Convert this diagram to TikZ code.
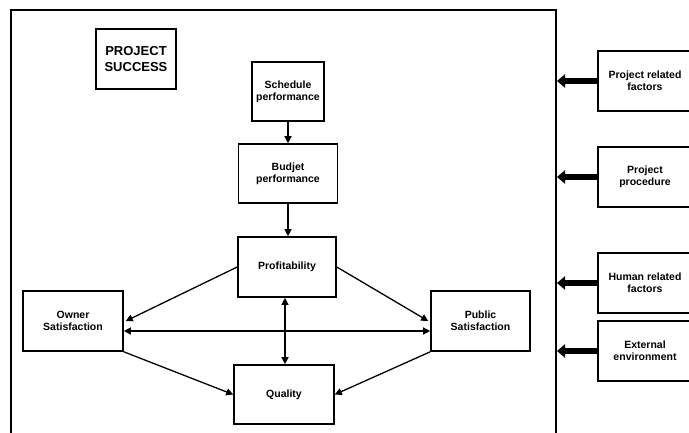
\documentclass[tikz,border=0pt]{standalone}
\usepackage{fontspec}
\setmainfont{Liberation Sans}
\usetikzlibrary{arrows.meta}
\begin{document}
\begin{tikzpicture}[x=1pt,y=-1pt,
  box/.style={draw=black,line width=1.6pt,fill=white,align=center,inner sep=1pt,
    font=\bfseries\fontsize{10.5}{11.7}\selectfont},
  conn/.style={line width=1.3pt,-{Triangle[length=7pt,width=7pt]}},
  dconn/.style={line width=1.3pt,{Triangle[length=7pt,width=7pt]}-{Triangle[length=7pt,width=7pt]}},
  fat/.style={line width=5.5pt,-{Triangle[length=8pt,width=13pt]}}]
\useasboundingbox (0,0) rectangle (689,432);
% frame
\draw[line width=1.6pt] (11,445) -- (11,10) -- (556,10) -- (556,445);
\coordinate (frameR) at (557,0);
% left diagram
\node[box,minimum width=80pt,minimum height=60pt,font=\bfseries\fontsize{13}{16.7}\selectfont] (ps) at (136,59) {PROJECT\\SUCCESS};
\node[box,minimum width=72pt,minimum height=59pt] (sched) at (288,91.5) {Schedule\\performance};
\node[box,minimum width=99pt,minimum height=59pt] (budj) at (288,173.5) {Budjet\\performance};
\node[box,minimum width=98pt,minimum height=60pt] (prof) at (287,267) {Profitability};
\node[box,minimum width=100pt,minimum height=60pt] (owner) at (73,321) {Owner\\Satisfaction};
\node[box,minimum width=99pt,minimum height=60pt] (public) at (480.5,321) {Public\\Satisfaction};
\node[box,minimum width=100pt,minimum height=59pt] (qual) at (284,394.5) {Quality};
% right factors
\node[box,minimum width=94pt,minimum height=60pt] (r1) at (645,81) {Project related\\factors};
\node[box,minimum width=94pt,minimum height=60pt] (r2) at (645,177) {Project\\procedure};
\node[box,minimum width=94pt,minimum height=60pt] (r3) at (645,283) {Human related\\factors};
\node[box,minimum width=94pt,minimum height=60pt] (r4) at (645,351) {External\\environment};
% connectors
\draw[conn] (sched.south) -- (budj.north);
\draw[conn] (budj.south) -- (budj.south |- prof.north);
\draw[conn] (prof.west) -- ([xshift=2pt]owner.east);
\draw[conn] (prof.east) -- ([xshift=-2pt]public.west);
\draw[dconn] ([yshift=-10pt]owner.east) -- ([yshift=-10pt]public.west);
\draw[dconn] ([xshift=-2pt]prof.south) -- ([xshift=1pt]qual.north);
\draw[conn] (owner.south east) -- (qual.west);
\draw[conn] (public.south west) -- (qual.east);
% fat arrows
\foreach \r in {r1,r2,r3,r4}{
  \draw[fat] (\r.west) -- (\r.west -| frameR);
}
\end{tikzpicture}
\end{document}
